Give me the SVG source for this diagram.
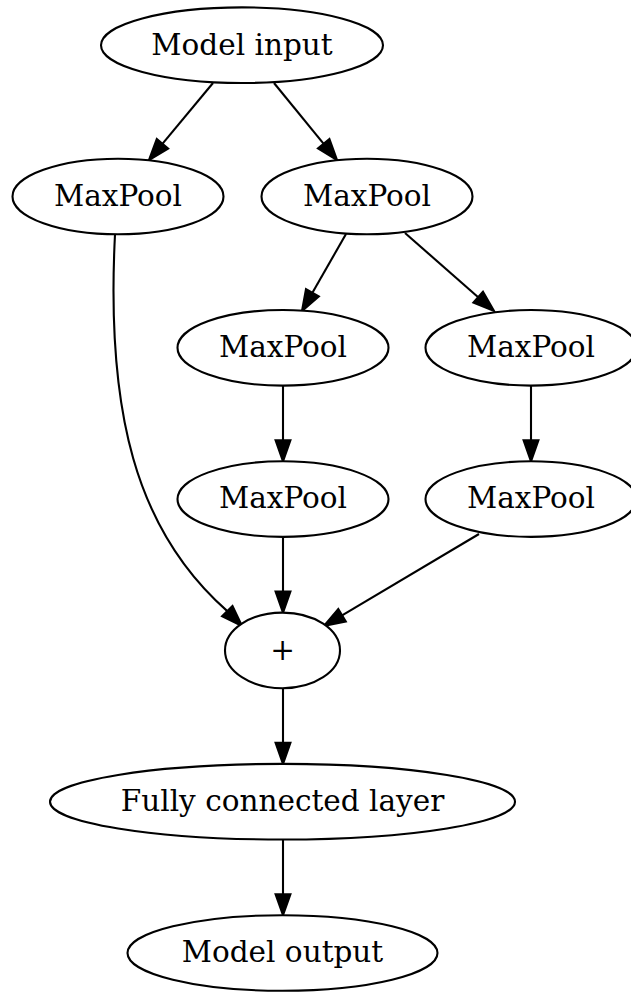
<svg xmlns="http://www.w3.org/2000/svg" width="631" height="992" viewBox="0 0 631 992">
<style>
.n ellipse{fill:#fff;stroke:#000;stroke-width:2.1}
.n text{font-family:"DejaVu Serif",serif;font-size:29.5px;text-anchor:middle;fill:#000}
.e path,.e line{fill:none;stroke:#000;stroke-width:2.1}
.e polygon{fill:#000;stroke:#000;stroke-width:2.1}
</style>
<rect width="631" height="992" fill="#fff"/>
<g id="edges" class="e">
<line x1="213" y1="83" x2="162.4" y2="143.8"/>
<polygon points="168.1,148.5 156.8,139.1 149,160"/>
<line x1="274" y1="83" x2="323.7" y2="143.8"/>
<polygon points="329.4,139.1 318,148.4 337,160"/>
<line x1="346" y1="234" x2="312.4" y2="292.8"/>
<polygon points="318.8,296.5 306,289.2 302,311"/>
<line x1="405" y1="233" x2="478.2" y2="297.2"/>
<polygon points="483,291.7 473.4,302.7 494,311"/>
<line x1="283" y1="385.6" x2="283" y2="440.2"/>
<polygon points="275.6,440.2 290.4,440.2 283,461.3"/>
<line x1="531" y1="385.6" x2="531" y2="440.2"/>
<polygon points="523.6,440.2 538.4,440.2 531,461.3"/>
<path d="M115,234.5 C106,410 135,530 227.3,611.1"/>
<polygon points="232.5,606 222.1,616.3 242,626"/>
<line x1="283" y1="536.9" x2="283" y2="591.6"/>
<polygon points="275.6,591.6 290.4,591.6 283,612.6"/>
<line x1="479" y1="534" x2="342.1" y2="615.3"/>
<polygon points="345.8,621.6 338.3,609 324,626"/>
<line x1="283" y1="688.2" x2="283" y2="742.9"/>
<polygon points="275.6,742.9 290.4,742.9 283,763.9"/>
<line x1="283" y1="839.5" x2="283" y2="894.2"/>
<polygon points="275.6,894.2 290.4,894.2 283,915.2"/>
</g>
<g id="model_input" class="n"><ellipse cx="242" cy="45.2" rx="141" ry="37.8"/><text x="242" y="54.5">Model input</text></g>
<g id="maxpool1" class="n"><ellipse cx="118" cy="196.5" rx="105.5" ry="37.8"/><text x="118" y="205.8">MaxPool</text></g>
<g id="maxpool2" class="n"><ellipse cx="367" cy="196.5" rx="105.5" ry="37.8"/><text x="367" y="205.8">MaxPool</text></g>
<g id="maxpool3" class="n"><ellipse cx="283" cy="347.8" rx="105.5" ry="37.8"/><text x="283" y="357.1">MaxPool</text></g>
<g id="maxpool4" class="n"><ellipse cx="531" cy="347.8" rx="105.5" ry="37.8"/><text x="531" y="357.1">MaxPool</text></g>
<g id="maxpool5" class="n"><ellipse cx="283" cy="499.1" rx="105.5" ry="37.8"/><text x="283" y="508.4">MaxPool</text></g>
<g id="maxpool6" class="n"><ellipse cx="531" cy="499.1" rx="105.5" ry="37.8"/><text x="531" y="508.4">MaxPool</text></g>
<g id="add" class="n"><ellipse cx="282.5" cy="650.4" rx="57.5" ry="37.8"/><text x="282.5" y="659.7">+</text></g>
<g id="fc" class="n"><ellipse cx="282.5" cy="801.7" rx="232.5" ry="37.8"/><text x="282.5" y="811">Fully connected layer</text></g>
<g id="model_output" class="n"><ellipse cx="282.5" cy="953" rx="155" ry="37.8"/><text x="282.5" y="962.3">Model output</text></g>
</svg>
